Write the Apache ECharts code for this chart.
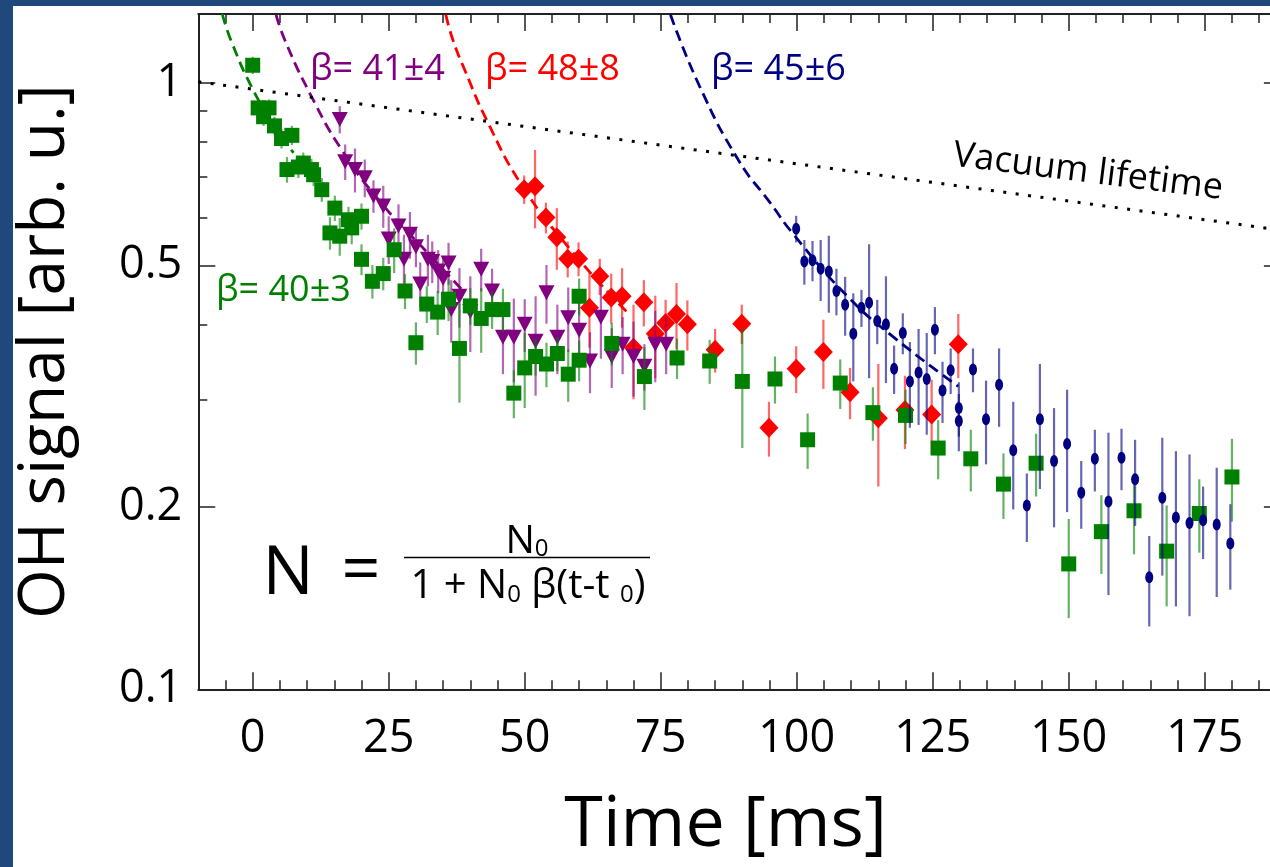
<!DOCTYPE html>
<html><head><meta charset="utf-8">
<script src="https://cdn.jsdelivr.net/npm/echarts@6/dist/echarts.min.js"></script>
<style>
html,body{margin:0;padding:0;background:#1f497d;width:1270px;height:867px;overflow:hidden}
#bg{position:absolute;left:13px;top:6px;width:1257px;height:861px;background:#fff}
#chart{position:absolute;left:0;top:0;width:1270px;height:867px}
</style></head><body><div id="bg"></div><div id="chart"></div>
<script>
// ---- data ----
const greenT=[0,1,2,3,4,5.3,6.3,7.2,8.4,9.3,10.8,11.2,12.7,14.2,15.1,16,17.6,18.2,20,20,22,24,26,28,30,32,34,36,38,40,42,44,46,48,50,52,54,56,58,60,60,66,72,78,84,90,96,102,108,114,120,126,132,138,144,150,156,162,168,174,180];
const greenV=[1.07,0.91,0.88,0.91,0.85,0.81,0.72,0.82,0.727,0.738,0.72,0.706,0.667,0.566,0.622,0.559,0.595,0.577,0.603,0.512,0.471,0.485,0.531,0.454,0.373,0.432,0.419,0.44,0.365,0.429,0.409,0.423,0.423,0.308,0.339,0.354,0.344,0.358,0.331,0.445,0.349,0.372,0.328,0.352,0.348,0.322,0.325,0.258,0.32,0.286,0.283,0.25,0.24,0.218,0.236,0.161,0.182,0.197,0.169,0.195,0.224];
const greenE=[.035,.03,.03,.03,.03,.03,.035,.03,.03,.03,.03,.03,.03,.035,.03,.04,.03,.035,.03,.03,.03,.03,.045,.03,.03,.03,.035,.035,.068,.03,.05,.03,.035,.028,.048,.025,.029,.023,.033,.031,.027,.03,.039,.027,.029,.072,.029,.027,.03,.029,.029,.028,.028,.027,.028,.03,.027,.03,.032,.027,.035];

const purpleT=[16,17,18.8,20.6,22.2,24,25,26.8,27.8,28.9,30,30.8,32.2,33,34.1,35,36,36.5,38,40,42,44,46,48,50,52,54,56,58,60,62,64,66,68,70,72,74,76];
const purpleV=[0.871,0.742,0.720,0.698,0.651,0.627,0.553,0.581,0.512,0.563,0.537,0.466,0.512,0.508,0.49,0.476,0.505,0.423,0.445,0.420,0.493,0.454,0.381,0.381,0.400,0.375,0.451,0.381,0.410,0.391,0.348,0.411,0.354,0.371,0.354,0.341,0.371,0.371];
const purpleE=[.045,.05,.06,.05,.04,.05,.05,.05,.05,.05,.04,.04,.05,.04,.04,.04,.04,.05,.05,.06,.04,.04,.05,.06,.04,.07,.05,.05,.05,.05,.04,.06,.04,.04,.05,.03,.05,.04];

const redT=[49.9,51.9,53.9,55.9,57.9,59.9,61.9,63.8,65.9,67.9,70,71.9,74,75.9,77.9,79.9,85,89.9,94.9,99.9,104.9,109.8,115,119.9,124.8,129.7];
const redV=[0.668,0.676,0.600,0.557,0.513,0.513,0.426,0.480,0.443,0.445,0.366,0.435,0.386,0.402,0.416,0.400,0.363,0.401,0.270,0.338,0.360,0.309,0.280,0.289,0.284,0.371];
const redE=[.036,.10,.035,.065,.035,.033,.06,.033,.042,.05,.065,.038,.06,.037,.052,.038,.03,.03,.028,.03,.047,.03,.064,.04,.04,.045];

const blueT=[99.9,101.4,102.9,104.4,105.9,107.3,108.9,110.4,111.9,113.3,114.8,116.4,117.9,119.5,120.8,122.4,123.9,125.4,126.8,128.3,129.8,129.8,132.4,134.8,137.2,139.8,142.3,144.7,147.3,149.7,152.3,154.8,157.3,159.7,162.2,164.8,167.2,169.7,172.2,174.7,177.2,179.7];
const blueV=[0.575,0.508,0.510,0.494,0.489,0.454,0.431,0.386,0.426,0.434,0.405,0.400,0.338,0.387,0.322,0.333,0.325,0.392,0.311,0.336,0.291,0.277,0.337,0.279,0.318,0.248,0.201,0.279,0.238,0.254,0.211,0.240,0.204,0.241,0.222,0.153,0.207,0.192,0.188,0.190,0.187,0.174];
const blueE=[.029,.043,.039,.057,.071,.04,.048,.064,.03,.108,.034,.08,.031,.03,.052,.06,.062,.035,.036,.029,.03,.03,.028,.044,.047,.05,.026,.065,.053,.058,.027,.028,.061,.028,.036,.026,.053,.055,.056,.026,.045,.028];

// fit curves, points
const greenFitT=[-5.6,-3.9,0.1,3.7,7.5];
const greenFitV=[1.30,1.17,0.973,0.86,0.767];
const purpleFitT=[4.3,5.9,10.5,16.4,23.7,32.3,38.6];
const purpleFitV=[1.296,1.178,0.962,0.775,0.633,0.523,0.455];
const redFitT=[35.5,36.8,39,43,49.5,58.5,68.7];
const redFitV=[1.296,1.178,1.05,0.869,0.678,0.53,0.42];
const blueFitT=[76.8,82.1,89.3,95.1,99.4,109.2,117.8,129.7];
const blueFitV=[1.296,0.99,0.746,0.635,0.563,0.446,0.381,0.316];
const vacuumT=[-10,189];
const vacuumV=[1.005,0.572];

// axis ticks
const xMajorTicks=[0,25,50,75,100,125,150,175];
const yLabelTicks=[0.1,0.2,0.5,1];
const yMajorTicks=[0.2,0.5,1];
const yMinorTicks=[0.3,0.4,0.6,0.7,0.8,0.9];

const labels=[
  {text:'β= 41±4', color:'#800080'},
  {text:'β= 48±8', color:'#ff0000'},
  {text:'β= 45±6', color:'#000080'},
  {text:'β= 40±3', color:'#008000'}
];

// ---- chart ----
const FONT='"Open Sans", sans-serif';
const AX='#222';
const xMin=-10, xMax=189, yMin=0.1, yMax=1.3;
const chart=echarts.init(document.getElementById('chart'),null,{renderer:'canvas'});

function pairs(T,V){return T.map((t,i)=>[t,V[i]]);}
function fitLine(T,V,color){
  return {type:'line',data:pairs(T,V),symbol:'none',showSymbol:false,smooth:0.5,
    lineStyle:{color:color,width:2.8,type:[11,6]},z:10,silent:true,animation:false};
}
function errBars(T,V,E,color,z){
  return {type:'custom',data:T.map((t,i)=>[t,V[i]-E[i],V[i]+E[i]]),encode:{x:0,y:[1,2]},z:z,silent:true,animation:false,
    renderItem:function(params,api){
      const x=api.value(0),lo=api.value(1),hi=api.value(2);
      const a=api.coord([x,lo]),b=api.coord([x,hi]);
      return {type:'line',shape:{x1:a[0],y1:a[1],x2:b[0],y2:b[1]},style:{stroke:color,lineWidth:2.2}};
    }};
}
function marks(T,V,color,symbol,size,rot,z){
  return {type:'scatter',data:pairs(T,V),symbol:symbol,symbolSize:size,symbolRotate:rot,
    itemStyle:{color:color,opacity:1},z:z,silent:true,animation:false};
}
function xAxisDef(pos,major){
  return {type:'value',position:pos,min:xMin,max:xMax,interval:major?undefined:5,
    axisLine:{show:!major,onZero:false,lineStyle:{color:AX,width:2}},
    axisTick:major?{inside:true,length:17,customValues:xMajorTicks,lineStyle:{color:AX,width:1.5}}:{inside:true,length:9,lineStyle:{color:AX,width:1.5}},
    axisLabel:(major&&pos==='bottom')?{customValues:xMajorTicks,fontSize:45,fontFamily:FONT,color:'#000',margin:27}:{show:false},
    splitLine:{show:false},
    name:(major&&pos==='bottom')?'Time [ms]':'',nameLocation:'middle',nameGap:102,
    nameTextStyle:{fontSize:70,fontFamily:FONT,color:'#000',padding:[0,28,0,0]}};
}
function yAxisDef(pos,major,first){
  return {type:'log',logBase:10,position:pos,min:yMin,max:yMax,
    axisLine:{show:first,onZero:false,lineStyle:{color:AX,width:2}},
    axisTick:{inside:true,length:major?17:9,customValues:major?yMajorTicks:yMinorTicks,lineStyle:{color:AX,width:1.5}},
    axisLabel:(first)?{customValues:yLabelTicks,fontSize:45,fontFamily:FONT,color:'#000',margin:16,formatter:v=>String(+v.toPrecision(3))}:{show:false},
    splitLine:{show:false},minorTick:{show:false},
    name:first?'OH signal [arb. u.]':'',nameLocation:'middle',nameGap:121,
    nameTextStyle:{fontSize:64,fontFamily:FONT,color:'#000'}};
}

const option={
  animation:false,
  backgroundColor:'transparent',
  grid:{left:198.3,top:14,width:1082.6,height:675.3,containLabel:false,outerBoundsMode:'none'},
  xAxis:[xAxisDef('bottom',false),xAxisDef('bottom',true),xAxisDef('top',false),xAxisDef('top',true)],
  yAxis:[yAxisDef('left',true,true),yAxisDef('left',false,false),yAxisDef('right',true,false),yAxisDef('right',false,false)],
  series:[
    errBars(redT,redV,redE,'rgba(255,0,0,0.6)',2),
    marks(redT,redV,'#ff0000','diamond',[19,20],0,2),
    errBars(purpleT,purpleV,purpleE,'rgba(128,0,128,0.6)',3),
    marks(purpleT,purpleV,'#800080','triangle',[16,15],180,3),
    errBars(greenT,greenV,greenE,'rgba(0,128,0,0.6)',4),
    marks(greenT,greenV,'#008000','rect',15,0,4),
    errBars(blueT,blueV,blueE,'rgba(0,0,128,0.6)',5),
    marks(blueT,blueV,'#000080','path://M50 0A50 50 0 1 1 50 100A50 50 0 1 1 50 0Z',[8,12],0,5),
    fitLine(greenFitT,greenFitV,'#008000'),
    fitLine(purpleFitT,purpleFitV,'#800080'),
    fitLine(redFitT,redFitV,'#ff0000'),
    fitLine(blueFitT,blueFitV,'#000080'),
    {type:'line',data:pairs(vacuumT,vacuumV),symbol:'none',showSymbol:false,
      lineStyle:{color:'#000',width:3,type:[3,9.5]},z:10,silent:true,animation:false}
  ],
  graphic:[
    {type:'text',x:310,y:70,z:20,style:{text:labels[0].text,fill:labels[0].color,fontSize:36,fontFamily:FONT,verticalAlign:'middle'}},
    {type:'text',x:485,y:70,z:20,style:{text:labels[1].text,fill:labels[1].color,fontSize:36,fontFamily:FONT,verticalAlign:'middle'}},
    {type:'text',x:711,y:70,z:20,style:{text:labels[2].text,fill:labels[2].color,fontSize:36,fontFamily:FONT,verticalAlign:'middle'}},
    {type:'text',x:216,y:291,z:20,style:{text:labels[3].text,fill:labels[3].color,fontSize:36,fontFamily:FONT,verticalAlign:'middle'}},
    {type:'text',x:1088,y:172,rotation:-7.1*Math.PI/180,z:20,style:{text:'Vacuum lifetime',fill:'#000',fontSize:36,fontFamily:FONT,align:'center',verticalAlign:'middle'}},
    {type:'text',x:288,y:575,z:20,style:{text:'N',fill:'#000',fontSize:68,fontFamily:FONT,align:'center',verticalAlign:'middle'}},
    {type:'text',x:361,y:573,z:20,style:{text:'=',fill:'#000',fontSize:68,fontFamily:FONT,align:'center',verticalAlign:'middle'}},
    {type:'line',z:20,shape:{x1:404,y1:557.5,x2:650,y2:557.5},style:{stroke:'#000',lineWidth:1.6}},
    {type:'text',x:527,y:542,z:20,style:{text:'{n|N}{s|0}',align:'center',verticalAlign:'middle',
      rich:{n:{fontSize:39,lineHeight:39,fontFamily:FONT,fill:'#000',verticalAlign:'middle'},s:{fontSize:24,lineHeight:18,fontFamily:FONT,fill:'#000',verticalAlign:'bottom'}}}},
    {type:'text',x:528,y:587,z:20,style:{text:'{n|1 + N}{s|0}{n| β(t-t }{s|0}{n|)}',align:'center',verticalAlign:'middle',
      rich:{n:{fontSize:40,lineHeight:40,fontFamily:FONT,fill:'#000',verticalAlign:'middle'},s:{fontSize:24,lineHeight:18,fontFamily:FONT,fill:'#000',verticalAlign:'bottom'}}}}
  ]
};
chart.setOption(option);
</script></body></html>
